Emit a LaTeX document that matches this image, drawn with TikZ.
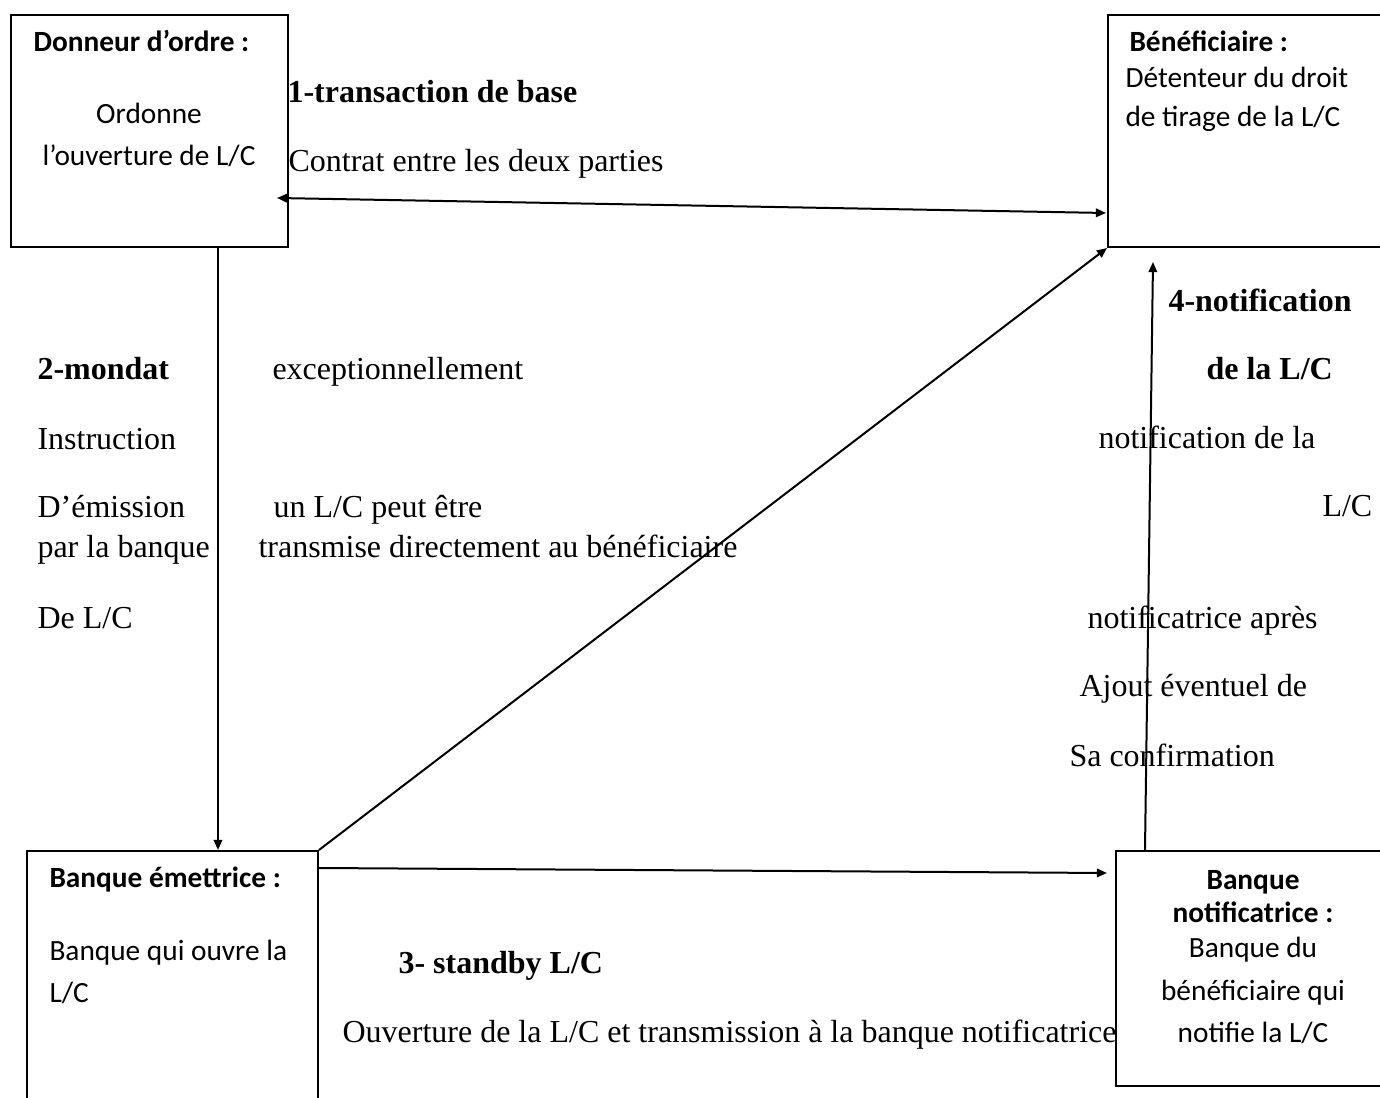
\documentclass[tikz,border=0pt]{standalone}
\usepackage{fontspec}
\setmainfont{Liberation Serif}
\newfontfamily\calib{Carlito}
\usetikzlibrary{arrows.meta,calc}
\begin{document}
\begin{tikzpicture}[x=0.375pt,y=-0.375pt,
  box/.style={draw,line width=0.75pt,anchor=north west,inner sep=0pt},
  arr/.style={line width=0.75pt,-{Triangle[length=3.8pt,width=3.2pt]}},
  dblarr/.style={line width=0.75pt,{Triangle[length=3.8pt,width=3.2pt]}-{Triangle[length=3.8pt,width=3.2pt]}},
  lbl/.style={anchor=base west,inner sep=0pt,font=\fontsize{12}{14}\selectfont},
  lblb/.style={anchor=base west,inner sep=0pt,font=\fontsize{12}{14}\selectfont\bfseries},
  inb/.style={anchor=base west,inner sep=0pt,font=\calib\fontsize{11}{13}\selectfont},
  inbb/.style={anchor=base west,inner sep=0pt,font=\calib\fontsize{11}{13}\selectfont\bfseries},
  inc/.style={anchor=base,inner sep=0pt,font=\calib\fontsize{11}{13}\selectfont},
  incb/.style={anchor=base,inner sep=0pt,font=\calib\fontsize{11}{13}\selectfont\bfseries}
]
\useasboundingbox (0,0) rectangle (1380,1098);
\clip (0,0) rectangle (1380,1098);

% the four parties
\node[box,minimum width=103.875pt,minimum height=87pt] (donneur) at (10,14) {};
\node[box,minimum width=108pt,minimum height=87pt] (benef) at (1107,14) {};
\node[box,minimum width=109.125pt,minimum height=97.5pt] (emettrice) at (26,850) {};
\node[box,minimum width=105pt,minimum height=88.125pt] (notif) at (1115,850) {};

% texts inside the boxes
\node[inbb] (d1) at (33,52) {Donneur d’ordre :};
\node[inc] (d2) at (149,124) {Ordonne};
\node[inc] (d3) at (149,166) {l’ouverture de L/C};

\node[inbb] (b1) at (1129,52) {Bénéficiaire :};
\node[inb] (b2) at (1125,88) {Détenteur du droit};
\node[inb] (b3) at (1125,127) {de tirage de la L/C};

\node[inbb] (e1) at (49,888) {Banque émettrice :};
\node[inb] (e2) at (49,960) {Banque qui ouvre la};
\node[inb] (e3) at (49,1002) {L/C};

\node[incb] (n1) at (1253,890) {Banque};
\node[incb] (n2) at (1253,923) {notificatrice :};
\node[inc] (n3) at (1253,958) {Banque du};
\node[inc] (n4) at (1253,1000) {bénéficiaire qui};
\node[inc] (n5) at (1253,1042) {notifie la L/C};

% connectors
\coordinate (c1a) at ($(donneur.north east)+(-12,184)$);
\coordinate (c1b) at ($(benef.south west)+(-1,-35)$);
\draw[dblarr] (c1a) -- (c1b);
\draw[arr] (218,0 |- donneur.south) -- (218,0 |- emettrice.north);
\draw[arr] (emettrice.north east) -- (benef.south west);
\draw[arr] ($(emettrice.north east)+(0,18)$) -- ($(notif.north west)+(-8,23)$);
\draw[arr] ($(notif.north west)+(30,0)$) -- ($(benef.south west)+(46,14)$);

% flow labels
\node[lblb] (l1) at (287,103) {1-transaction de base};
\node[lbl] (l1b) at (288,172) {Contrat entre les deux parties};

\node[lblb] (l2) at (37,380) {2-mondat};
\node[lbl] (l2a) at (37,450) {Instruction};
\node[lbl] (l2b) at (37,518) {D’émission};
\node[lbl] (l2c) at (37,558) {par la banque};
\node[lbl] (l2d) at (37,629) {De L/C};

\node[lbl] (x1) at (272,380) {exceptionnellement};
\node[lbl] (x2) at (273,518) {un L/C peut être};
\node[lbl] (x3) at (258,558) {transmise directement au bénéficiaire};

\node[lblb] (l4) at (1168,312) {4-notification};
\node[lblb] (l4b) at (1206,380) {de la L/C};
\node[lbl] (l4c) at (1098,449) {notification de la};
\node[lbl] (l4d) at (1322,517) {L/C};
\node[lbl] (l4e) at (1087,629) {notificatrice après};
\node[lbl] (l4f) at (1079,697) {Ajout éventuel de};
\node[lbl] (l4g) at (1069,767) {Sa confirmation};

\node[lblb] (l3) at (398,973) {3- standby L/C};
\node[lbl] (l3b) at (342,1042) {Ouverture de la L/C et transmission à la banque notificatrice};
\end{tikzpicture}
\end{document}
